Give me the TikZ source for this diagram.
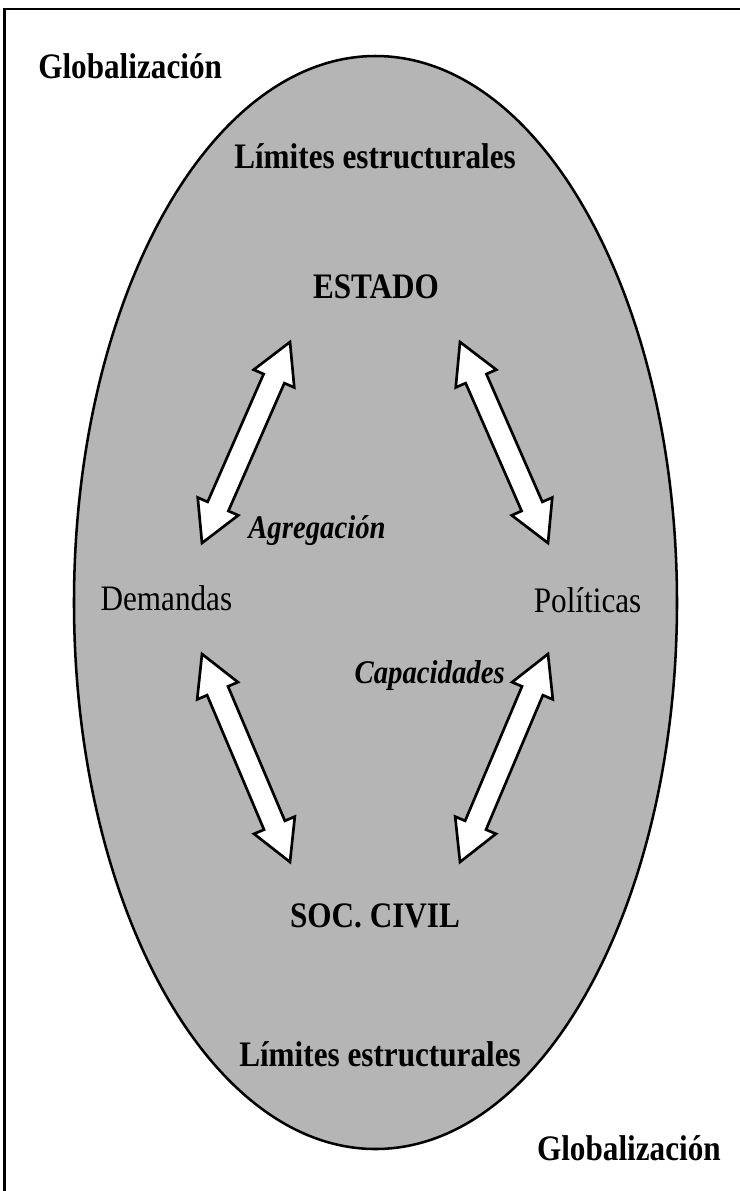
\documentclass[tikz,border=0pt]{standalone}
\usepackage{fontspec}
\setmainfont{Liberation Serif}[FakeStretch=0.87]
\usetikzlibrary{calc,shapes.arrows}

\begin{document}
\begin{tikzpicture}[textS/.style={anchor=base,inner sep=0pt,font=\fontsize{25.5}{30}\selectfont},boldS/.style={textS,font=\fontsize{25.5}{30}\selectfont\bfseries},italS/.style={textS,font=\fontsize{23.5}{28}\selectfont\bfseries\itshape},arrowS/.style={double arrow,draw=black,fill=white,line width=1.9pt,inner sep=0pt,inner ysep=0.25cm,double arrow head extend=0.27cm,double arrow tip angle=58}]
\useasboundingbox (0,0) rectangle (18.5,-29.775);
\draw[line width=2.1pt] (18.5,-0.225) -- (0.1125,-0.225) -- (0.1125,-29.775);
\draw[line width=1.8pt,fill=black!29] (9.3875,-15.0625) ellipse [x radius=7.5375,y radius=13.6625];

\node[boldS,anchor=base west] (globA) at (0.95,-1.95) {Globalización};
\node[boldS] (limA) at (9.375,-4.2) {Límites estructurales};
\node[boldS] (estado) at (9.4,-7.45) {ESTADO};
\node[textS] (demandas) at (4.16,-15.25) {Demandas};
\node[textS] (politicas) at (14.69,-15.3) {Políticas};
\node[boldS] (soccivil) at (9.375,-23.175) {SOC. CIVIL};
\node[boldS] (limB) at (9.5,-26.65) {Límites estructurales};
\node[boldS,anchor=base east] (globB) at (18.025,-29.0) {Globalización};
\node[italS,anchor=base west] (agreg) at (6.2,-13.45) {Agregación};
\node[italS,anchor=base east] (capac) at (12.625,-17.075) {Capacidades};

\coordinate (estL) at (7.25,-8.55);
\coordinate (estR) at (11.5,-8.55);
\coordinate (demU) at (5.05,-13.575);
\coordinate (polU) at (13.7,-13.575);
\coordinate (demD) at (5.05,-16.35);
\coordinate (polD) at (13.7,-16.35);
\coordinate (socL) at (7.25,-21.55);
\coordinate (socR) at (11.5,-21.55);

\path let \p1=($(estL)-(demU)$) in node[arrowS,rotate={atan2(\y1,\x1)},minimum height={veclen(\x1,\y1)}] (a1) at ($(demU)!0.5!(estL)$) {};
\path let \p1=($(estR)-(polU)$) in node[arrowS,rotate={atan2(\y1,\x1)},minimum height={veclen(\x1,\y1)}] (a2) at ($(polU)!0.5!(estR)$) {};
\path let \p1=($(socL)-(demD)$) in node[arrowS,rotate={atan2(\y1,\x1)},minimum height={veclen(\x1,\y1)}] (a3) at ($(demD)!0.5!(socL)$) {};
\path let \p1=($(socR)-(polD)$) in node[arrowS,rotate={atan2(\y1,\x1)},minimum height={veclen(\x1,\y1)}] (a4) at ($(polD)!0.5!(socR)$) {};
\end{tikzpicture}
\end{document}
